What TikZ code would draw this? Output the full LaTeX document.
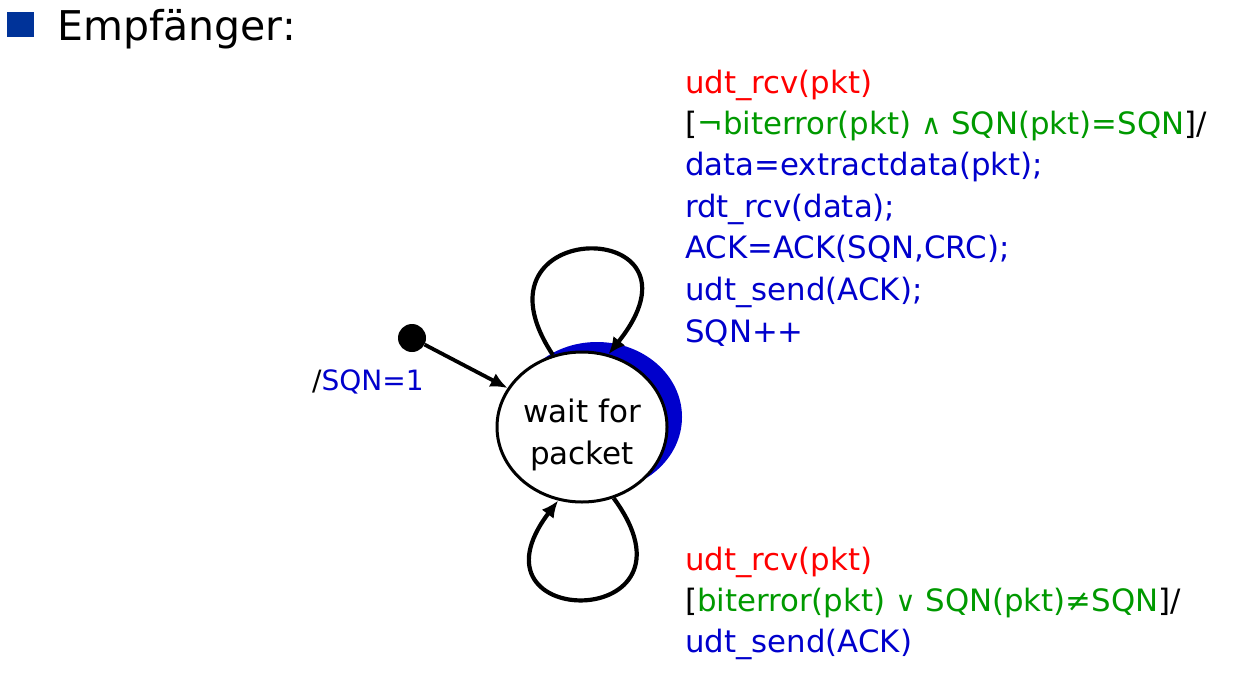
\documentclass[tikz,border=0pt]{standalone}
\usepackage{fontspec}
\setmainfont{DejaVu Sans}
\usetikzlibrary{arrows.meta,shapes.geometric}
\definecolor{tblue}{RGB}{0,0,204}
\definecolor{tgreen}{RGB}{0,153,0}
\definecolor{tred}{RGB}{255,0,0}
\definecolor{sqblue}{RGB}{0,51,153}
\newcommand{\smop}[1]{{\fontsize{28}{28}\selectfont #1}}
\tikzset{
  body/.style={anchor=base west, inner sep=0pt, font=\fontsize{30.8}{42}\selectfont},
  looparrow/.style={line width=4.2pt, -{Latex[length=17pt,width=15pt]}},
  statebox/.style={ellipse, draw, line width=3pt, fill=white, minimum width=170pt, minimum height=150pt, inner sep=0pt, align=center, font=\fontsize{31}{42}\selectfont},
}
\begin{document}
\begin{tikzpicture}[x=1pt,y=-1pt]
\useasboundingbox (0,0) rectangle (1236,675);
% title
\node[fill=sqblue, minimum width=27pt, minimum height=25pt, inner sep=0pt, anchor=north west] (bullet) at (7,12) {};
\node[anchor=base west, inner sep=0pt, font=\fontsize{41}{48}\selectfont] (title) at (57,40) {Empfänger:};
% state with highlight
\node[ellipse, fill=tblue, minimum width=170pt, minimum height=150pt, inner sep=0pt] (shadow) at (597,417) {};
\node[statebox] (s) at (582,427) {\rule{0pt}{39pt}wait for\\packet};
% initial
\node[circle, fill=black, minimum size=28pt, inner sep=0pt] (init) at (412,338) {};
\draw[looparrow, line width=3.8pt] (init) -- (s);
\node[body, font=\fontsize{28}{34}\selectfont] (initlbl) at (312,390) {/\textcolor{tblue}{SQN=1}};
% self loops
\draw[looparrow] (s.112) .. controls (460,215) and (720,215) .. (s.70);
\draw[looparrow] (s.294) .. controls (712,632) and (458,632) .. (s.252);
% top label
\node[body, text=tred] (a1) at (685,93) {udt\_rcv(pkt)};
\node[body] (a2) at (685,134) {[\textcolor{tgreen}{¬biterror(pkt) \smop{∧} SQN(pkt)=SQN}]/};
\node[body, text=tblue] (a3) at (685,175) {data=extractdata(pkt);};
\node[body, text=tblue] (a4) at (685,217) {rdt\_rcv(data);};
\node[body, text=tblue] (a5) at (685,258) {ACK=ACK(SQN,CRC);};
\node[body, text=tblue] (a6) at (685,300) {udt\_send(ACK);};
\node[body, text=tblue] (a7) at (685,342) {SQN++};
% bottom label
\node[body, text=tred] (b1) at (685,570) {udt\_rcv(pkt)};
\node[body] (b2) at (685,611) {[\textcolor{tgreen}{biterror(pkt) \smop{∨} SQN(pkt)≠SQN}]/};
\node[body, text=tblue] (b3) at (685,652) {udt\_send(ACK)};
\end{tikzpicture}
\end{document}
